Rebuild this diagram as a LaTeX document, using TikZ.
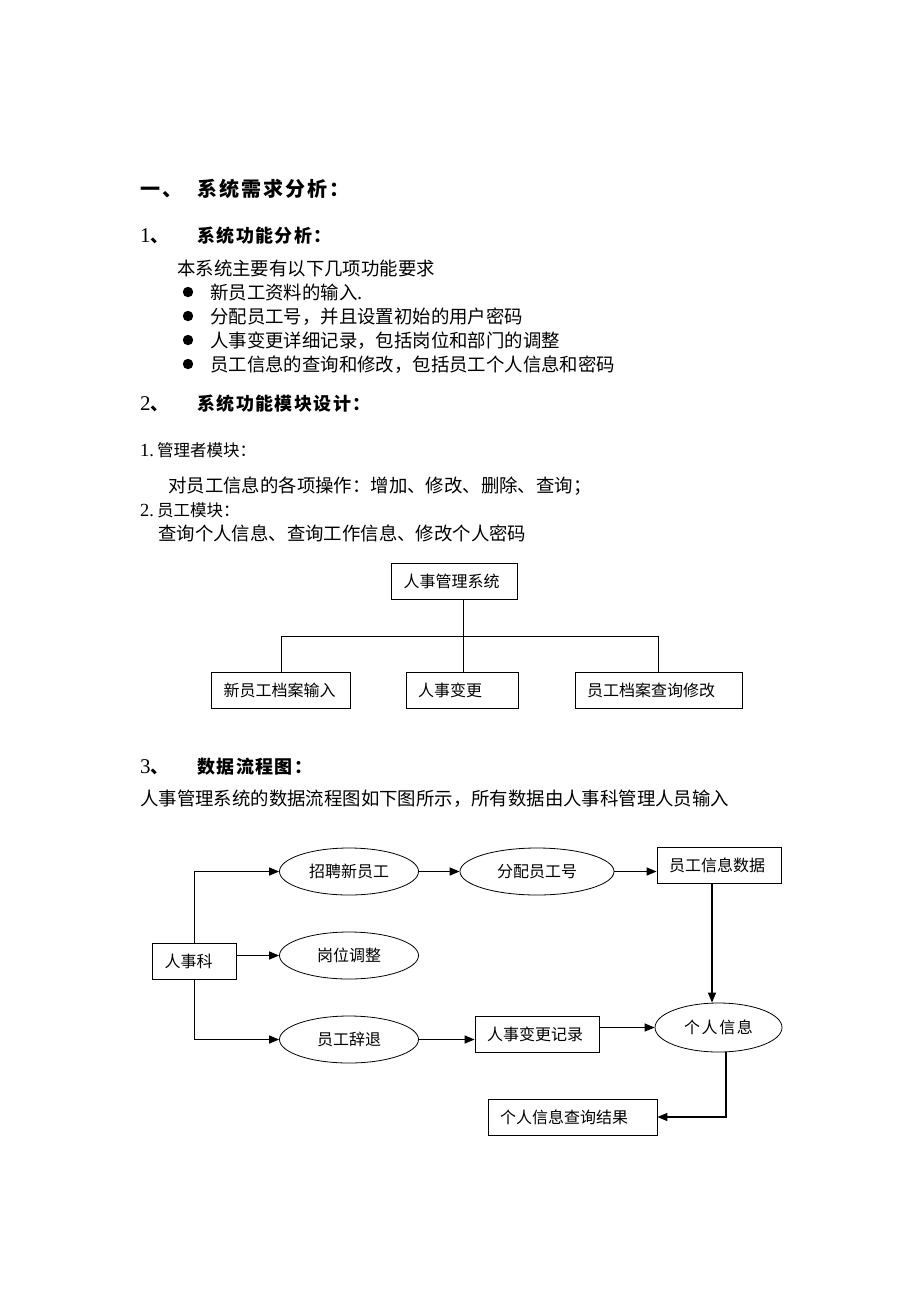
\documentclass[tikz,border=0pt]{standalone}
\usepackage{fontspec}
\setmainfont{Liberation Serif}
\newfontfamily\cjk{Noto Sans CJK SC}
\newcommand\latn[1]{{\rmfamily #1}}
\usetikzlibrary{shapes.geometric,arrows.meta}
\tikzset{
  hd/.style={anchor=base west, inner sep=0pt, font=\cjk\bfseries\fontsize{20}{22}\selectfont\addfontfeature{LetterSpace=10}},
  sh/.style={anchor=base west, inner sep=0pt, font=\cjk\bfseries\fontsize{18}{20}\selectfont\addfontfeature{LetterSpace=8}},
  tx/.style={anchor=base west, inner sep=0pt, font=\cjk\fontsize{18.4}{20}\selectfont},
  txs/.style={anchor=base west, inner sep=0pt, font=\cjk\fontsize{16.5}{18}\selectfont},
  box/.style={draw, line width=0.8pt, inner xsep=12pt, inner ysep=0pt, minimum height=36pt, align=left, font=\cjk\fontsize{16}{18}\selectfont},
  ell/.style={draw, ellipse, line width=0.8pt, inner sep=0pt, minimum height=47pt, font=\cjk\fontsize{16}{18}\selectfont},
  ln/.style={line width=0.8pt},
  arr/.style={line width=1.3pt, -{Triangle[length=10pt,width=8pt]}},
  bul/.style={fill=black}
}
\begin{document}
\begin{tikzpicture}[x=1pt,y=-1pt]
\useasboundingbox[fill=white] (0,0) rectangle (920,1302);
% headings and text
\node[hd] (h0n) at (140,196) {一、};
\node[hd] (h0) at (197,196) {系统需求分析：};
\node[sh] (h1n) at (140,242) {\latn{\mdseries\fontsize{21}{22}\selectfont 1}、};
\node[sh] (h1) at (197,242) {系统功能分析：};
\node[tx] (t1) at (177,275) {本系统主要有以下几项功能要求};
\fill[bul] (188,292) circle (5.2);
\fill[bul] (188,316) circle (5.2);
\fill[bul] (188,340) circle (5.2);
\fill[bul] (188,364) circle (5.2);
\node[tx] (b1t) at (210,299) {新员工资料的输入.};
\node[tx] (b2t) at (210,323) {分配员工号，并且设置初始的用户密码};
\node[tx] (b3t) at (210,347) {人事变更详细记录，包括岗位和部门的调整};
\node[tx] (b4t) at (210,371) {员工信息的查询和修改，包括员工个人信息和密码};
\node[sh] (h2n) at (140,410) {\latn{\mdseries\fontsize{21}{22}\selectfont 2}、};
\node[sh] (h2) at (197,410) {系统功能模块设计：};
\node[txs] (m1) at (140,456) {\latn{\fontsize{18.5}{20}\selectfont 1.}\hspace{3pt}管理者模块：};
\node[tx] (m1t) at (168,492) {对员工信息的各项操作：增加、修改、删除、查询；};
\node[txs] (m2) at (140,516) {\latn{\fontsize{18.5}{20}\selectfont 2.}\hspace{3pt}员工模块：};
\node[tx] (m2t) at (158,540) {查询个人信息、查询工作信息、修改个人密码};
% org chart
\node[box, text width=102pt] (top) at (454.5,581) {人事管理系统};
\node[box, text width=115pt] (o1) at (281,690) {新员工档案输入};
\node[box, text width=88pt] (o2) at (462,690) {人事变更};
\node[box, text width=143pt] (o3) at (658.5,690) {员工档案查询修改};
\coordinate (j) at (463,636);
\draw[ln] (top.south -| j) -- (j);
\draw[ln] (o1.north) |- (j);
\draw[ln] (o3.north) |- (j);
\draw[ln] (j) -- (o2.north -| j);
% section 3
\node[sh] (h3n) at (140,773) {\latn{\mdseries\fontsize{21}{22}\selectfont 3}、};
\node[sh] (h3) at (197,773) {数据流程图：};
\node[tx] (t3) at (140,805) {人事管理系统的数据流程图如下图所示，所有数据由人事科管理人员输入};
% flow chart
\node[box, text width=60pt] (rsk) at (194.5,961) {人事科};
\node[ell, minimum width=139pt] (zp) at (349,871.5) {招聘新员工};
\node[ell, minimum width=154pt] (fp) at (537,871.5) {分配员工号};
\node[box, text width=100pt] (yg) at (719,865) {员工信息数据};
\node[ell, minimum width=139pt] (gw) at (349,955.5) {岗位调整};
\node[ell, minimum width=139pt] (ct) at (349,1039.5) {员工辞退};
\node[box, text width=100pt] (rb) at (537,1034) {人事变更记录};
\node[ell, minimum width=127pt, minimum height=49pt, font=\cjk\fontsize{16}{18}\selectfont\addfontfeature{LetterSpace=10}] (gr) at (718.5,1027.5) {个人信息};
\node[box, text width=145pt] (cx) at (572.5,1117) {个人信息查询结果};
\coordinate (c1) at (712,0);
\coordinate (c2) at (726,0);
\draw[arr] (rsk.north) |- (zp.west);
\draw[arr] (rsk.east |- gw.west) -- (gw.west);
\draw[arr] (rsk.south) |- (ct.west);
\draw[arr] (zp.east) -- (fp.west);
\draw[arr] (fp.east) -- (yg.west |- fp.east);
\draw[arr] (ct.east) -- (rb.west |- ct.east);
\draw[arr] (rb.east |- gr.west) -- (gr.west);
\draw[arr] (yg.south -| c1) -- (gr.north -| c1);
\draw[arr] (gr.south -| c2) |- (cx.east);
\end{tikzpicture}
\end{document}
